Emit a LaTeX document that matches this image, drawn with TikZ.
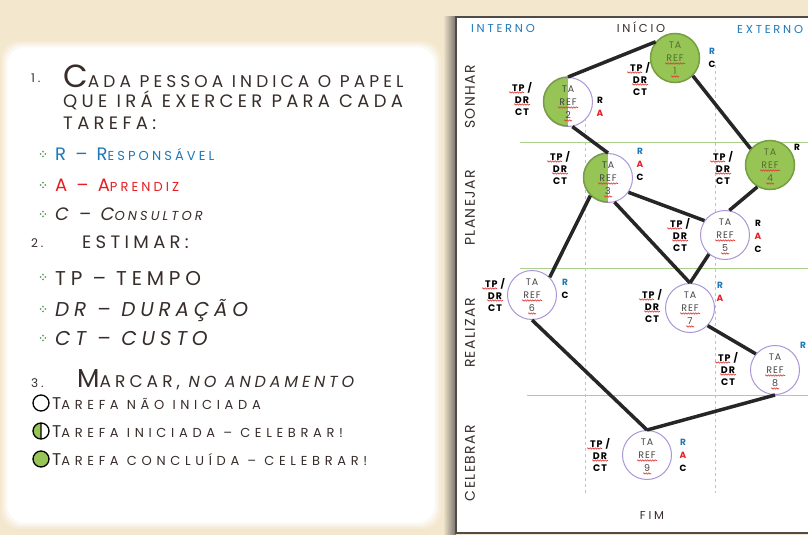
\documentclass[tikz,border=0pt]{standalone}
\usepackage{fontspec}
\setmainfont[LetterSpace=24]{Poppins}
\newfontfamily\eng[LetterSpace=10]{Poppins}
\usetikzlibrary{decorations.pathmorphing}

\definecolor{papier}{RGB}{243,231,205}
\definecolor{tinte}{RGB}{55,45,42}
\definecolor{blau}{RGB}{30,120,185}
\definecolor{rot}{RGB}{230,30,35}
\definecolor{gruen}{RGB}{150,196,85}
\definecolor{gruenrand}{RGB}{118,158,66}
\definecolor{lila}{RGB}{170,150,215}
\definecolor{linie}{RGB}{170,208,140}
\definecolor{strich}{RGB}{185,205,165}
\definecolor{rahmen}{RGB}{80,75,70}
\definecolor{wellenrot}{RGB}{225,60,60}

\newcommand{\fs}[1]{\fontsize{#1}{#1}\selectfont}

\tikzset{
	aufgabe/.style={circle, minimum size=49pt, inner sep=0pt, align=center,
		font=\eng\fontsize{9.5}{13}\selectfont, text=gray!55!black, draw=lila,
		line width=1pt, fill=white},
	fertig/.style={aufgabe, fill=gruen, draw=gruenrand, line width=1.5pt,
		text=gruenrand!70!black},
	halb/.style={aufgabe, path picture={\fill[gruen] (path picture bounding
		box.south west) rectangle (path picture bounding box.north);}},
	kante/.style={line width=3.5pt, draw=black!85},
	welle/.style={wellenrot, line width=0.6pt, decorate,
		decoration={snake, segment length=2.5pt, amplitude=0.7pt}},
	schaetz/.style={align=center, inner sep=0pt,
		font=\eng\bfseries\fontsize{9.5}{12}\selectfont},
	rolle/.style={align=center, inner sep=0pt,
		font=\eng\bfseries\fontsize{9}{13}\selectfont},
	kopf/.style={inner sep=0pt, font=\fs{11.5}},
	phase/.style={inner sep=0pt, rotate=90, font=\eng\fs{14}, text=tinte},
	zeile/.style={anchor=base west, inner sep=0pt, text=tinte, font=\fs{18}},
	legende/.style={zeile, font=\addfontfeature{LetterSpace=36}\fs{17}}
}

\begin{document}
\begin{tikzpicture}[x=1pt, y=-1pt]
	\useasboundingbox (0,0) rectangle (808,535);
	% Hintergrund
	\fill[papier] (0,0) rectangle (808,535);
	\foreach \d/\o in {7/0.2, 5/0.35, 3/0.55, 1/0.8}
		\fill[white, opacity=\o, rounded corners=18pt] (8-\d,48-\d) rectangle
		(434+\d,522+\d);
	\fill[white, rounded corners=16pt] (8,48) rectangle (434,522);

	% Anleitung links
	\node[zeile, font=\fs{12}] (nr1) at (31,82) {1.};
	\node[zeile, font=\fs{17}] (z1) at (63,88) {{\fs{32}\smash{C}}ADA PESSOA INDICA O PAPEL};
	\node[zeile] (z2) at (63,107) {QUE IRÁ EXERCER PARA CADA};
	\node[zeile] (z3) at (63,129) {TAREFA:};
	\node[zeile, text=blau] (rolleR) at (55,160) {R – R{\fs{13}ESPONSÁVEL}};
	\node[zeile, text=rot] (rolleA) at (55,191) {A – A{\fs{13}PRENDIZ}};
	\node[zeile, font=\itshape\fs{18}] (rolleC) at (55,220) {C – C{\fs{13}ONSULTOR}};
	\node[zeile, font=\fs{12}] (nr2) at (31,247) {2.};
	\node[zeile] (z4) at (82,248) {ESTIMAR:};
	\node[zeile, font=\fs{20}] (tp) at (55,285) {TP – TEMPO};
	\node[zeile, font=\itshape\fs{20}] (dr) at (55,316) {DR – DURAÇÃO};
	\node[zeile, font=\itshape\fs{20}] (ct) at (55,345) {CT – CUSTO};
	\node[zeile, font=\fs{12}] (nr3) at (31,387) {3.};
	\node[zeile, font=\fs{17}] (z5) at (77,387) {{\fs{26}\smash{M}}ARCAR, {\itshape\fs{16}NO ANDAMENTO}};
	\node[legende] (leg1) at (52,409) {T{\fs{13}AREFA NÃO INICIADA}};
	\node[legende] (leg2) at (52,437) {T{\fs{13}AREFA INICIADA – CELEBRAR!}};
	\node[legende] (leg3) at (52,465) {T{\fs{13}AREFA CONCLUÍDA – CELEBRAR!}};
	% Aufzaehlungszeichen
	\foreach \y in {154,185,214,277,309,338}
		\foreach \dx/\dy in {0/-2.3, 0/2.3, -2.3/0, 2.3/0}
			\fill[gray!75!green] (43+\dx,\y+\dy) circle[radius=1pt];
	% Legende
	\draw[line width=1.3pt] (41,403) circle[radius=8pt];
	\fill[gruen] (41,423) arc[start angle=90, end angle=270, radius=8pt] -- cycle;
	\draw[line width=1.3pt] (41,431) circle[radius=8pt] (41,423) -- (41,439);
	\filldraw[fill=gruen, line width=1.3pt] (41,459) circle[radius=8pt];

	% Tafel rechts
	\shade[left color=papier, right color=rahmen!80] (443,17) rectangle (456,535);
	\fill[white] (456,17) rectangle (815,533);
	\draw[rahmen, line width=2pt] (456,17) rectangle (815,533);
	\foreach \x/\y in {520/142, 520/268, 527/395}
		\draw[linie, line width=0.8pt] (\x,\y) -- (810,\y);
	\foreach \x/\y in {585/88, 715/65}
		\draw[strich, dashed, line width=0.8pt] (\x,\y) -- (\x,493);

	% Ueberschriften
	\node[kopf, text=blau] (intern) at (503,28) {INTERNO};
	\node[kopf, text=tinte] (start) at (641,27) {INÍCIO};
	\node[kopf, text=blau, anchor=west] (extern) at (737,29) {EXTERNO};
	\node[kopf, text=tinte] (ende) at (652,515) {FIM};
	\foreach \name/\y in {SONHAR/97, PLANEJAR/208, REALIZAR/333, CELEBRAR/463}
		\node[phase] (p\name) at (470,\y) {\name};

	% Aufgaben
	\node[fertig] (t1) at (675,58) {TA\\REF\\1};
	\node[halb] (t2) at (568,102) {TA\\REF\\2};
	\node[halb] (t3) at (608,178) {TA\\REF\\3};
	\node[fertig] (t4) at (770,165) {TA\\REF\\4};
	\node[aufgabe] (t5) at (725,235) {TA\\REF\\5};
	\node[aufgabe] (t6) at (532,295) {TA\\REF\\6};
	\node[aufgabe] (t7) at (690,308) {TA\\REF\\7};
	\node[aufgabe] (t8) at (775,370) {TA\\REF\\8};
	\node[aufgabe] (t9) at (647,455) {TA\\REF\\9};
	\foreach \t in {t2,t3}
		\draw[gruenrand, line width=1.5pt] (\t.north) arc[start angle=90,
		end angle=270, radius=24.5pt];

	% Verbindungen
	\draw[kante] (t2.north) -- (t1.140);
	\draw[kante] (t1.-45) -- (t4.140);
	\draw[kante] (t2.-80) -- (t3.north);
	\draw[kante] (t3.-35) -- (t5.145);
	\draw[kante] (t3.225) -- (t6.45);
	\draw[kante] (t3.-75) -- (t7.north);
	\draw[kante] (t4.240) -- (t5.80);
	\draw[kante] (t5.230) -- (t7.north);
	\draw[kante] (t6.south) -- (t9.north);
	\draw[kante] (t7.-45) -- (t8.140);
	\draw[kante] (t8.south) -- (t9.north);

	% Schaetzungen
	\foreach \n/\x/\y in {1/640/79, 2/522/99, 3/560/168, 4/723/168, 5/680/235,
		6/495/295, 7/652/306, 8/728/369, 9/600/455}
		\node[schaetz] (s\n) at (\x,\y) {TP /\\DR\\CT};

	% Rollen
	\node[rolle] (r1) at (712,58) {\textcolor{blau}{R}\\C};
	\node[rolle] (r2) at (600,107) {R\\\textcolor{rot}{A}};
	\node[rolle] (r3) at (640,164) {\textcolor{blau}{R}\\\textcolor{rot}{A}\\C};
	\node[rolle] (r4) at (797,147) {R};
	\node[rolle] (r5) at (758,236) {R\\\textcolor{rot}{A}\\C};
	\node[rolle] (r6) at (565,289) {\textcolor{blau}{R}\\C};
	\node[rolle] (r7) at (720,292) {\textcolor{blau}{R}\\\textcolor{rot}{A}};
	\node[rolle] (r8) at (803,345) {\textcolor{blau}{R}};
	\node[rolle] (r9) at (683,455) {\textcolor{blau}{R}\\\textcolor{rot}{A}\\C};

	% Rechtschreibwellen
	\foreach \t in {t1,t2,t3,t4,t5,t6,t7,t8,t9} {
		\draw[welle] ([shift={(-10,5.5)}]\t.center) -- ++(20,0);
		\draw[welle] ([shift={(-4,18.5)}]\t.center) -- ++(8,0);
	}
	\foreach \s in {s1,s2,s3,s4,s5,s6,s7,s8,s9} {
		\draw[welle] ([shift={(-13,-6.5)}]\s.center) -- ++(15,0);
		\draw[welle] ([shift={(-8,5.5)}]\s.center) -- ++(16,0);
	}
\end{tikzpicture}
\end{document}
